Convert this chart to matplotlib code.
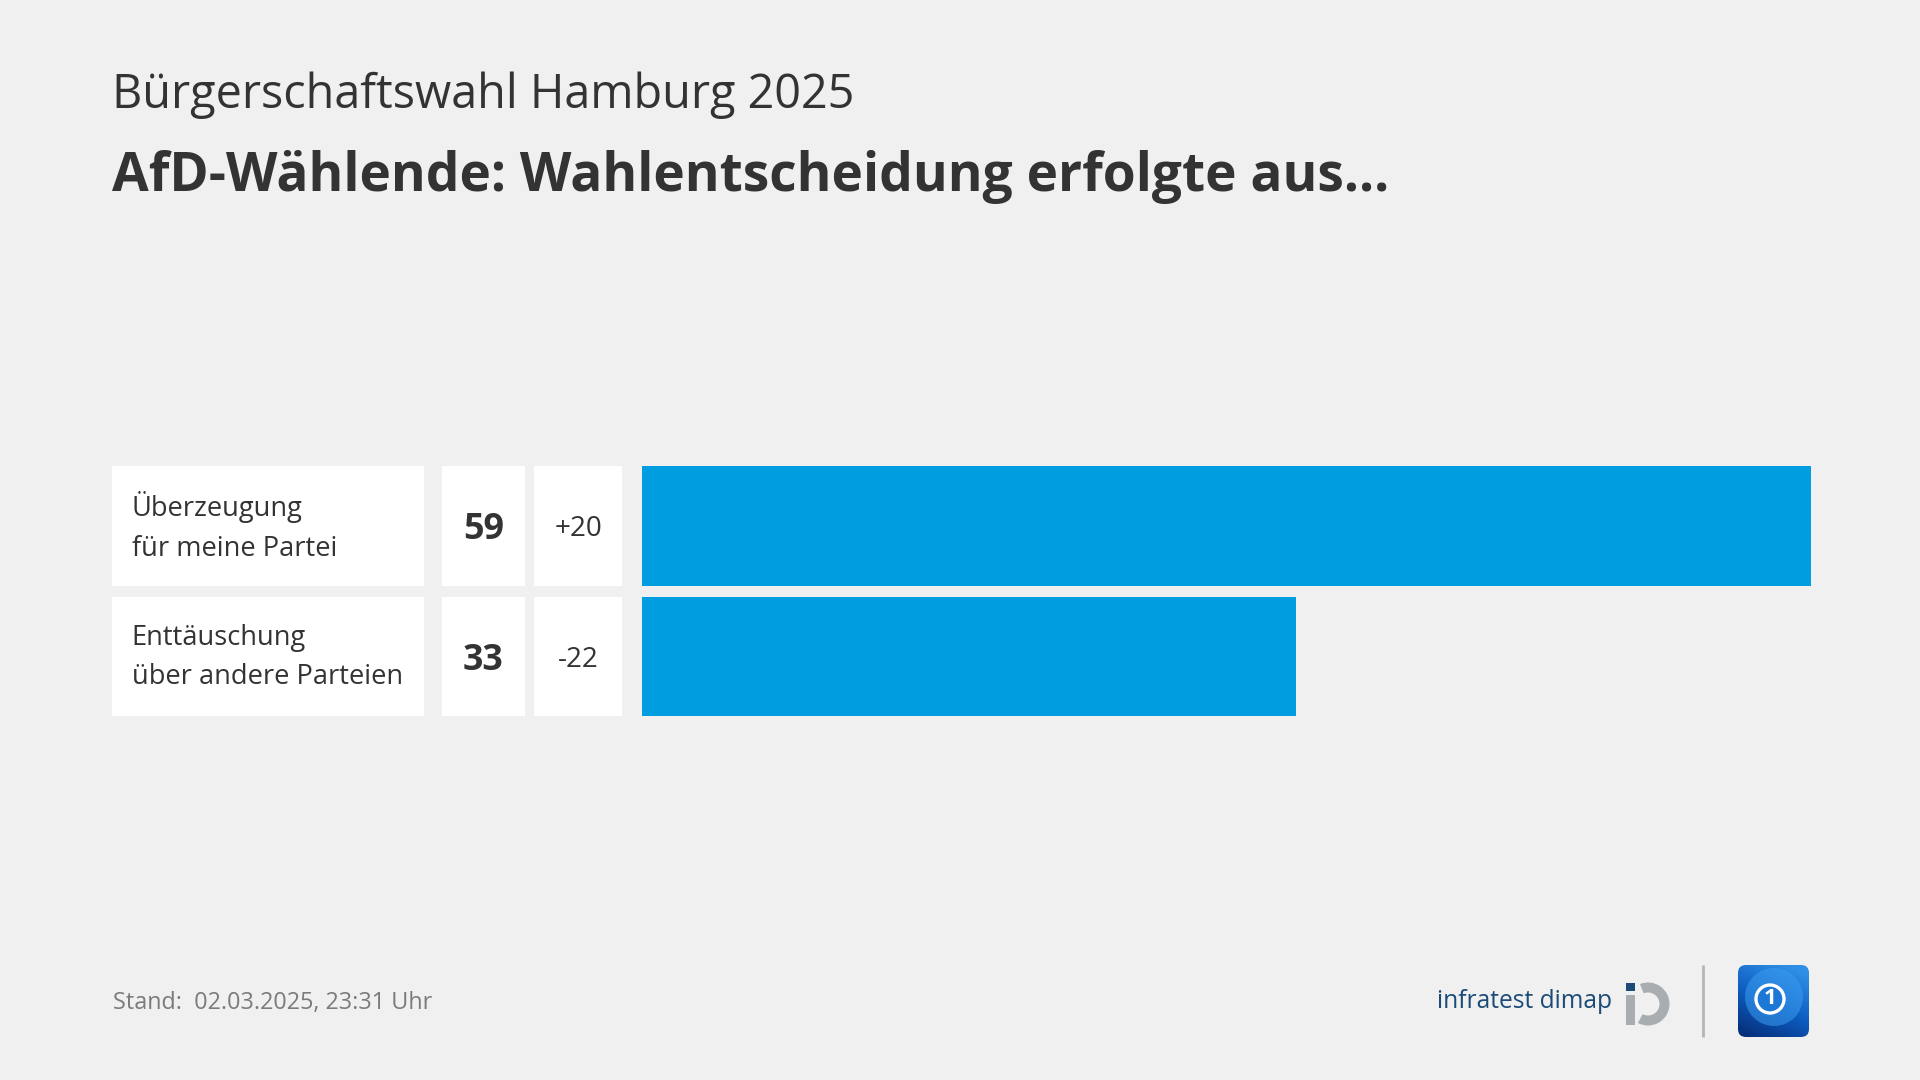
import numpy as np
import matplotlib
matplotlib.use("Agg")
import matplotlib.pyplot as plt
from matplotlib.patches import Rectangle, FancyBboxPatch, Wedge, Circle

# ---------------- data ----------------
subtitle = "Bürgerschaftswahl Hamburg 2025"
title = "AfD-Wählende: Wahlentscheidung erfolgte aus..."
categories = ["Überzeugung\nfür meine Partei", "Enttäuschung\nüber andere Parteien"]
values = [59, 33]
changes = ["+20", "-22"]
footer = "Stand:  02.03.2025, 23:31 Uhr"
source = "infratest dimap"

# ---------------- style ----------------
BG = "#f0f0f0"
BAR = "#009de0"
TXT = "#333333"
FONT = "Open Sans"
W, H = 1920, 1080

fig = plt.figure(figsize=(19.2, 10.8), dpi=100, facecolor=BG)
bg = fig.add_axes([0, 0, 1, 1], zorder=0)
bg.set_xlim(0, W)
bg.set_ylim(0, H)
bg.axis("off")
bg.set_facecolor(BG)

def Y(y):
    return H - y

renderer = fig.canvas.get_renderer()

def fit(t, target_w):
    bb = t.get_window_extent(renderer)
    t.set_fontsize(t.get_fontsize() * target_w / bb.width)
    return t

# titles
t = bg.text(112.5, Y(108), subtitle, fontsize=30, family=FONT, color=TXT, va="baseline", ha="left")
fit(t, 742)
t = bg.text(112.5, Y(191), title, fontsize=30, family=FONT, weight="bold", color=TXT, va="baseline", ha="left")
fit(t, 1280)

# row geometry (pixels)
row_top0 = 466.0
pitch = 130.7
row_h = 119.5
lab_x0, lab_x1 = 111.7, 424.0
val_x0, val_x1 = 441.7, 525.0
chg_x0, chg_x1 = 534.0, 622.0
bar_x0, bar_x1 = 641.5, 1811.0

probe = bg.text(0, 0, categories[1].split("\n")[1], fontsize=17, family=FONT)
label_fs = 17 * 272 / probe.get_window_extent(renderer).width
probe.remove()
probe = bg.text(0, 0, "59", fontsize=26, family=FONT, weight="bold")
val_fs = 26 * 41 / probe.get_window_extent(renderer).width
probe.remove()
probe = bg.text(0, 0, "+20", fontsize=19, family=FONT)
chg_fs = 19 * 48 / probe.get_window_extent(renderer).width
probe.remove()

for i, (cat, v, c) in enumerate(zip(categories, values, changes)):
    top = row_top0 + i * pitch
    cy = top + row_h / 2
    for x0, x1 in [(lab_x0, lab_x1), (val_x0, val_x1), (chg_x0, chg_x1)]:
        bg.add_patch(Rectangle((x0, Y(top + row_h)), x1 - x0, row_h, facecolor="white", edgecolor="none"))
    bg.text(131.5, Y(cy + 1), cat, fontsize=label_fs, family=FONT, color=TXT, va="center", ha="left",
            linespacing=1.55)
    bg.text((val_x0 + val_x1) / 2, Y(cy), str(v), fontsize=val_fs, family=FONT, weight="bold",
            color=TXT, va="center_baseline", ha="center")
    bg.text((chg_x0 + chg_x1) / 2, Y(cy), c, fontsize=chg_fs, family=FONT, color=TXT,
            va="center_baseline", ha="center")

# bar axes
n = len(values)
hbar = row_h / pitch
ax_bottom = Y(row_top0 + (n - 1) * pitch + row_h)
ax_h = (n - 1) * pitch + row_h
ax = fig.add_axes([bar_x0 / W, ax_bottom / H, (bar_x1 - bar_x0) / W, ax_h / H], zorder=1)
ax.patch.set_alpha(0)
ax.barh(range(n), values, height=hbar, color=BAR, edgecolor="none")
ax.set_xlim(0, max(values))
ax.set_ylim(n - 1 + hbar / 2, -hbar / 2)
ax.axis("off")

# footer
t = bg.text(113, Y(1009), footer, fontsize=16, family=FONT, color="#7b7b7b", va="baseline", ha="left")
fit(t, 320)
t = bg.text(1437, Y(1008), source, fontsize=18, family=FONT, color="#1c4b78", va="baseline", ha="left")
fit(t, 175)

# infratest icon
bg.add_patch(Rectangle((1625.5, Y(991)), 9.5, 8, facecolor="#1c4b78", edgecolor="none"))
bg.add_patch(Rectangle((1625.5, Y(1025)), 9.5, 30, facecolor="#a8adb2", edgecolor="none"))
bg.add_patch(Wedge((1648, Y(1004)), 21.5, -118, 112, width=10, facecolor="#a8adb2", edgecolor="none"))

# separator
bg.plot([1703, 1703], [Y(965), Y(1037)], color="#b5b5b5", lw=2, solid_capstyle="butt")

# tagesschau-like logo
box = FancyBboxPatch((1738, Y(1037)), 71, 72, boxstyle="round,pad=0,rounding_size=8",
                     facecolor="none", edgecolor="none")
bg.add_patch(box)
gy, gx = np.mgrid[0:1:200j, 0:1:200j]
grad = np.clip(0.35 * gx + 0.75 * (1 - gy), 0, 1)
cmap = matplotlib.colors.LinearSegmentedColormap.from_list("ts", ["#062a72", "#0d5cc0", "#2f8fe6"])
im = bg.imshow(grad, extent=(1738, 1809, Y(1037), Y(965)), origin="upper", cmap=cmap,
               aspect="auto", zorder=2, interpolation="bilinear")
im.set_clip_path(box)
globe = Circle((1774, Y(997)), 29, facecolor="#3a9cf0", edgecolor="none", alpha=0.55, zorder=3)
bg.add_patch(globe)
globe.set_clip_path(box)
bg.add_patch(Circle((1770, Y(999)), 14, facecolor="#1c78d6", edgecolor="white", lw=2.4, zorder=4))
bg.text(1770, Y(999), "1", fontsize=16, family=FONT, weight="bold", color="white",
        ha="center", va="center", zorder=5)
bg.set_xlim(0, W)
bg.set_ylim(0, H)

fig.savefig("out.png", dpi=100, facecolor=BG)
